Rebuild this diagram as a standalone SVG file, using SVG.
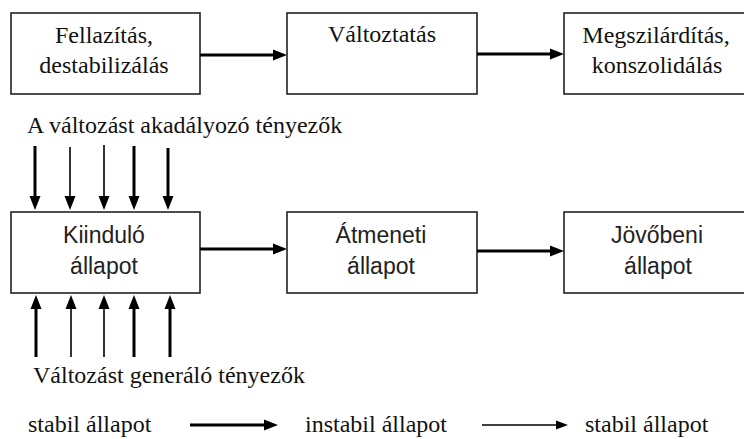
<svg xmlns="http://www.w3.org/2000/svg" width="744" height="439" viewBox="0 0 744 439">
<style>
.box{fill:#fff;stroke:#222;stroke-width:1.6}
.serif{font-family:"Liberation Serif","Times New Roman",serif;font-size:24px;fill:#111}
.sans{font-family:"Liberation Sans",Arial,sans-serif;font-size:23px;fill:#222}
.mid{text-anchor:middle}
.thick{stroke:#000;stroke-width:3;fill:none}
.thin{stroke:#000;stroke-width:1.6;fill:none}
</style>
<defs>
<marker id="ah" markerUnits="userSpaceOnUse" markerWidth="14" markerHeight="12" viewBox="0 0 14 12" refX="6" refY="6" orient="auto">
<path d="M0,0.5 L14,6 L0,11.5 z" fill="#000"/>
</marker>
<marker id="ahs" markerUnits="userSpaceOnUse" markerWidth="12" markerHeight="10" viewBox="0 0 12 10" refX="5" refY="5" orient="auto">
<path d="M0,0.5 L12,5 L0,9.5 z" fill="#000"/>
</marker>
</defs>
<rect width="744" height="439" fill="#fff"/>

<g id="fellazitas">
<rect class="box" x="11" y="13" width="189" height="81"/>
<text class="serif mid" x="104" y="43">Fellazítás,</text>
<text class="serif mid" x="104" y="73">destabilizálás</text>
</g>
<g id="valtoztatas">
<rect class="box" x="287" y="13" width="190" height="81"/>
<text class="serif mid" x="382" y="42">Változtatás</text>
</g>
<g id="megszilarditas">
<rect class="box" x="564" y="13" width="184" height="81"/>
<text class="serif mid" x="656" y="43">Megszilárdítás,</text>
<text class="serif mid" x="657" y="73">konszolidálás</text>
</g>

<g id="kiindulo">
<rect class="box" x="11" y="212" width="189" height="81"/>
<text class="sans mid" x="104" y="243">Kiinduló</text>
<text class="sans mid" x="104" y="274">állapot</text>
</g>
<g id="atmeneti">
<rect class="box" x="287" y="212" width="190" height="81"/>
<text class="sans mid" x="381" y="243">Átmeneti</text>
<text class="sans mid" x="381" y="274">állapot</text>
</g>
<g id="jovobeni">
<rect class="box" x="564" y="212" width="184" height="81"/>
<text class="sans mid" x="657" y="243">Jövőbeni</text>
<text class="sans mid" x="658" y="274">állapot</text>
</g>

<g id="labels">
<text class="serif" x="27" y="133">A változást akadályozó tényezők</text>
<text class="serif" x="33" y="383">Változást generáló tényezők</text>
<text class="serif" x="28" y="432">stabil állapot</text>
<text class="serif" x="305" y="432">instabil állapot</text>
<text class="serif" x="585" y="432">stabil állapot</text>
</g>

<g id="connectors">
<line class="thick" x1="200" y1="55" x2="279" y2="55" marker-end="url(#ah)"/>
<line class="thick" x1="477" y1="54" x2="556" y2="54" marker-end="url(#ah)"/>
<line class="thick" x1="200" y1="249" x2="279" y2="249" marker-end="url(#ah)"/>
<line class="thick" x1="477" y1="251" x2="556" y2="251" marker-end="url(#ah)"/>

<line class="thick" x1="35" y1="146" x2="35" y2="202" marker-end="url(#ah)"/>
<line class="thin" x1="70" y1="147" x2="70" y2="202" marker-end="url(#ah)"/>
<line class="thin" x1="104" y1="145" x2="104" y2="202" marker-end="url(#ah)"/>
<line class="thick" x1="134" y1="146" x2="134" y2="202" marker-end="url(#ah)"/>
<line class="thick" x1="168" y1="148" x2="168" y2="202" marker-end="url(#ah)"/>

<line class="thick" x1="36" y1="357" x2="36" y2="303" marker-end="url(#ah)"/>
<line class="thin" x1="71" y1="357" x2="71" y2="303" marker-end="url(#ah)"/>
<line class="thin" x1="104" y1="357" x2="104" y2="303" marker-end="url(#ah)"/>
<line class="thick" x1="134" y1="357" x2="134" y2="303" marker-end="url(#ah)"/>
<line class="thick" x1="170" y1="357" x2="170" y2="303" marker-end="url(#ah)"/>

<line class="thick" x1="190" y1="425" x2="270" y2="425" marker-end="url(#ah)"/>
<line class="thin" x1="482" y1="425" x2="561" y2="425" marker-end="url(#ahs)"/>
</g>
</svg>
